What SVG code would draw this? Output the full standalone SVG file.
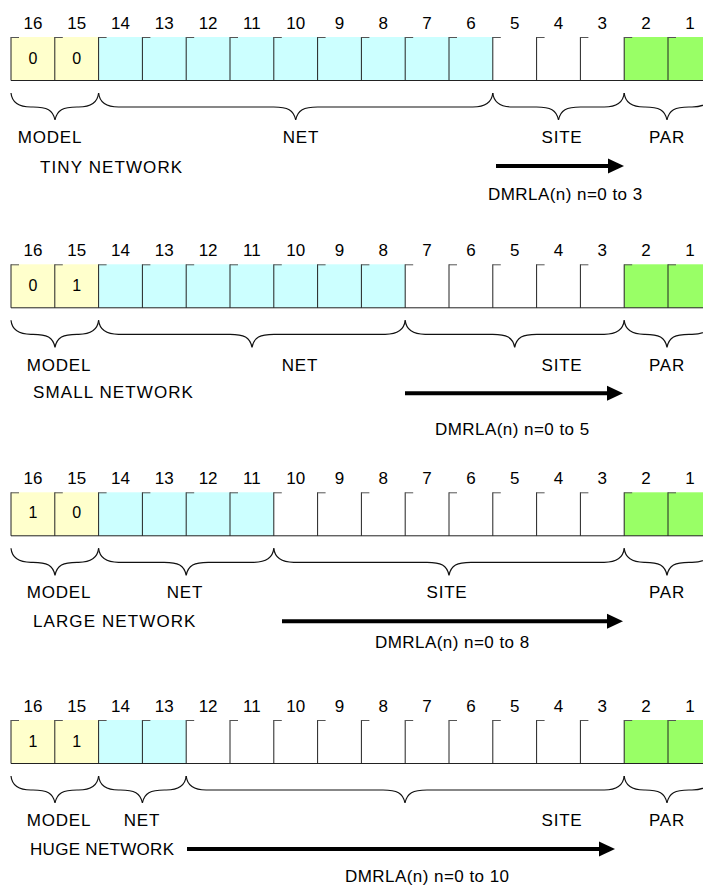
<svg xmlns="http://www.w3.org/2000/svg" xmlns:xlink="http://www.w3.org/1999/xlink" width="703" height="887" viewBox="0 0 703 887">
<style>
text{font-family:"Liberation Sans","DejaVu Sans",sans-serif;fill:#000;}
.num{font-size:17px;text-anchor:middle;}
.dig{font-size:16px;text-anchor:middle;}
.lbl{font-size:17px;text-anchor:middle;letter-spacing:0.8px;}
.name{font-size:17px;letter-spacing:1.1px;}
.dm{font-size:17px;letter-spacing:0.45px;}
.ln{stroke:#222;stroke-width:1;fill:none;}
.tick{stroke:#555;stroke-width:1;fill:none;}
.brace{stroke:#111;stroke-width:1.2;fill:none;}
.y{fill:#FFFFCC;}
.c{fill:#CCFFFF;}
.g{fill:#99FF66;}
.arr{stroke:#000;stroke-width:4;fill:none;}
.head{fill:#000;}
</style>
<defs>
<g id="grid">
<path class="ln" d="M11,0V43.5M54.8,0V43.5M98.6,0V43.5M142.4,0V43.5M186.2,0V43.5M230,0V43.5M273.8,0V43.5M317.6,0V43.5M361.4,0V43.5M405.2,0V43.5M449,0V43.5M492.8,0V43.5M536.6,0V43.5M580.4,0V43.5M624.2,0V43.5M668,0V43.5M11,43.5H712"/>
<path class="tick" d="M11,0.5h8M54.8,0.5h8M98.6,0.5h8M142.4,0.5h8M186.2,0.5h8M230,0.5h8M273.8,0.5h8M317.6,0.5h8M361.4,0.5h8M405.2,0.5h8M449,0.5h8M492.8,0.5h8M536.6,0.5h8M580.4,0.5h8M624.2,0.5h8M668,0.5h8"/>
</g>
<g id="bits">
<text class="num" x="32.9" y="-8">16</text>
<text class="num" x="76.7" y="-8">15</text>
<text class="num" x="120.5" y="-8">14</text>
<text class="num" x="164.3" y="-8">13</text>
<text class="num" x="208.1" y="-8">12</text>
<text class="num" x="251.9" y="-8">11</text>
<text class="num" x="295.7" y="-8">10</text>
<text class="num" x="339.5" y="-8">9</text>
<text class="num" x="383.3" y="-8">8</text>
<text class="num" x="427.1" y="-8">7</text>
<text class="num" x="470.9" y="-8">6</text>
<text class="num" x="514.7" y="-8">5</text>
<text class="num" x="558.5" y="-8">4</text>
<text class="num" x="602.3" y="-8">3</text>
<text class="num" x="646.1" y="-8">2</text>
<text class="num" x="689.9" y="-8">1</text>
</g>
<path id="bModel" class="brace" d="M11,56 C12,66 19,70 31,70 L33,70 C47,70 53,73 55,83 C57,73 63,70 77,70 L78.6,70 C90.6,70 97.6,66 98.6,56"/>
<path id="bPar" class="brace" d="M624.2,56 C625.2,66 632.2,70 644.2,70 L645,70 C659,70 665,73 667,83 C669,73 675,70 689,70 L692,70 C704,70 711,66 712,56"/>
</defs>

<g id="tiny" transform="translate(0,37)">
<rect class="y" x="11" y="0" width="87.6" height="43.5"/>
<rect class="c" x="98.6" y="0" width="394.2" height="43.5"/>
<rect class="g" x="624.2" y="0" width="90" height="43.5"/>
<use xlink:href="#grid"/>
<use xlink:href="#bits"/>
<text class="dig" x="32.9" y="27">0</text>
<text class="dig" x="76.7" y="27">0</text>
<use xlink:href="#bModel"/>
<path class="brace" d="M98.6,56 C99.6,66 106.6,70 118.6,70 L273.7,70 C287.7,70 293.7,73 295.7,83 C297.7,73 303.7,70 317.7,70 L472.8,70 C484.8,70 491.8,66 492.8,56"/>
<path class="brace" d="M492.8,56 C493.8,66 500.8,70 512.8,70 L536.5,70 C550.5,70 556.5,73 558.5,83 C560.5,73 566.5,70 580.5,70 L604.2,70 C616.2,70 623.2,66 624.2,56"/>
<use xlink:href="#bPar"/>
<text class="lbl" x="50" y="106">MODEL</text>
<text class="lbl" x="301" y="106">NET</text>
<text class="lbl" x="562" y="106">SITE</text>
<text class="lbl" x="667" y="106">PAR</text>
<text class="name" x="40" y="136">TINY NETWORK</text>
<text class="dm" x="488" y="163">DMRLA(n) n=0 to 3</text>
</g>

<g id="small" transform="translate(0,264.3)">
<rect class="y" x="11" y="0" width="87.6" height="43.5"/>
<rect class="c" x="98.6" y="0" width="306.6" height="43.5"/>
<rect class="g" x="624.2" y="0" width="90" height="43.5"/>
<use xlink:href="#grid"/>
<use xlink:href="#bits"/>
<text class="dig" x="32.9" y="27">0</text>
<text class="dig" x="76.7" y="27">1</text>
<use xlink:href="#bModel"/>
<path class="brace" d="M98.6,56 C99.6,66 106.6,70 118.6,70 L230,70 C244,70 250,73 252,83 C254,73 260,70 274,70 L385.2,70 C397.2,70 404.2,66 405.2,56"/>
<path class="brace" d="M405.2,56 C406.2,66 413.2,70 425.2,70 L492.7,70 C506.7,70 512.7,73 514.7,83 C516.7,73 522.7,70 536.7,70 L604.2,70 C616.2,70 623.2,66 624.2,56"/>
<use xlink:href="#bPar"/>
<text class="lbl" x="59" y="107">MODEL</text>
<text class="lbl" x="300" y="107">NET</text>
<text class="lbl" x="562" y="107">SITE</text>
<text class="lbl" x="667" y="107">PAR</text>
<text class="name" x="33" y="134">SMALL NETWORK</text>
<text class="dm" x="435" y="171">DMRLA(n) n=0 to 5</text>
</g>

<g id="large" transform="translate(0,492.3)">
<rect class="y" x="11" y="0" width="87.6" height="43.5"/>
<rect class="c" x="98.6" y="0" width="175.2" height="43.5"/>
<rect class="g" x="624.2" y="0" width="90" height="43.5"/>
<use xlink:href="#grid"/>
<use xlink:href="#bits"/>
<text class="dig" x="32.9" y="26">1</text>
<text class="dig" x="76.7" y="26">0</text>
<use xlink:href="#bModel"/>
<path class="brace" d="M98.6,56 C99.6,66 106.6,70 118.6,70 L164.2,70 C178.2,70 184.2,73 186.2,83 C188.2,73 194.2,70 208.2,70 L253.8,70 C265.8,70 272.8,66 273.8,56"/>
<path class="brace" d="M273.8,56 C274.8,66 281.8,70 293.8,70 L427,70 C441,70 447,73 449,83 C451,73 457,70 471,70 L604.2,70 C616.2,70 623.2,66 624.2,56"/>
<use xlink:href="#bPar"/>
<text class="lbl" x="59" y="106">MODEL</text>
<text class="lbl" x="185" y="106">NET</text>
<text class="lbl" x="447" y="106">SITE</text>
<text class="lbl" x="667" y="106">PAR</text>
<text class="name" x="33" y="135">LARGE NETWORK</text>
<text class="dm" x="375" y="156">DMRLA(n) n=0 to 8</text>
</g>

<g id="huge" transform="translate(0,720)">
<rect class="y" x="11" y="0" width="87.6" height="43.5"/>
<rect class="c" x="98.6" y="0" width="87.6" height="43.5"/>
<rect class="g" x="624.2" y="0" width="90" height="43.5"/>
<use xlink:href="#grid"/>
<use xlink:href="#bits"/>
<text class="dig" x="32.9" y="27">1</text>
<text class="dig" x="76.7" y="27">1</text>
<use xlink:href="#bModel"/>
<path class="brace" d="M98.6,56 C99.6,66 106.6,70 118.6,70 L120.4,70 C134.4,70 140.4,73 142.4,83 C144.4,73 150.4,70 164.4,70 L166.2,70 C178.2,70 185.2,66 186.2,56"/>
<path class="brace" d="M186.2,56 C187.2,66 194.2,70 206.2,70 L383,70 C397,70 403,73 405,83 C407,73 413,70 427,70 L604.2,70 C616.2,70 623.2,66 624.2,56"/>
<use xlink:href="#bPar"/>
<text class="lbl" x="59" y="106">MODEL</text>
<text class="lbl" x="142" y="106">NET</text>
<text class="lbl" x="562" y="106">SITE</text>
<text class="lbl" x="667" y="106">PAR</text>
<text class="name" x="30" y="135" style="letter-spacing:0.3px">HUGE NETWORK</text>
<text class="dm" x="345" y="162">DMRLA(n) n=0 to 10</text>
</g>

<g id="connectors">
<path class="arr" d="M496,166H609"/>
<polygon class="head" points="624,166 608,158.5 608,173.5"/>
<path class="arr" d="M405,393.3H608"/>
<polygon class="head" points="623,393.3 607,385.8 607,400.8"/>
<path class="arr" d="M282,621.3H608"/>
<polygon class="head" points="623,621.3 607,613.8 607,628.8"/>
<path class="arr" d="M187,849H600"/>
<polygon class="head" points="615,849 599,841.5 599,856.5"/>
</g>
</svg>
